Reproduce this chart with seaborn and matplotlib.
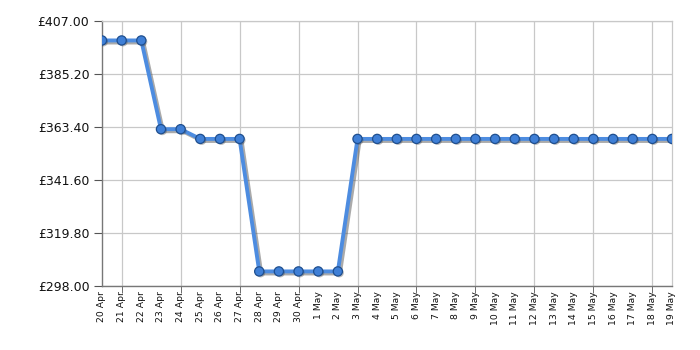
import matplotlib
matplotlib.use("Agg")
import matplotlib.pyplot as plt
import matplotlib.patheffects as pe
import seaborn as sns
import pandas as pd
import numpy as np

dates = ["20 Apr", "21 Apr", "22 Apr", "23 Apr", "24 Apr", "25 Apr", "26 Apr", "27 Apr",
         "28 Apr", "29 Apr", "30 Apr", "1 May", "2 May", "3 May", "4 May", "5 May",
         "6 May", "7 May", "8 May", "9 May", "10 May", "11 May", "12 May", "13 May",
         "14 May", "15 May", "16 May", "17 May", "18 May", "19 May"]
prices = [399.0, 399.0, 399.0, 362.5, 362.5, 358.5, 358.5, 358.5,
          304.0, 304.0, 304.0, 304.0, 304.0, 358.5, 358.5, 358.5,
          358.5, 358.5, 358.5, 358.5, 358.5, 358.5, 358.5, 358.5,
          358.5, 358.5, 358.5, 358.5, 358.5, 358.5]
ytick_values = [298.0, 319.8, 341.6, 363.4, 385.2, 407.0]

df = pd.DataFrame({"idx": np.arange(len(dates)), "date": dates, "price": prices})

sns.set_style("white")
plt.rcParams['font.family'] = ['DejaVu Sans']

fig = plt.figure(figsize=(7, 3.5), dpi=100)
ax = fig.add_axes([102/700, 1-286/350, 570/700, 265/350])

sns.lineplot(data=df, x="idx", y="price", ax=ax, color="#4d8ce0", linewidth=2.8,
             zorder=4,
             path_effects=[pe.SimpleLineShadow(offset=(1.5, -1.5), shadow_color="#444444", alpha=0.45),
                           pe.Normal()])
sns.scatterplot(data=df, x="idx", y="price", ax=ax, s=44, color="#3f7fd6",
                edgecolor="#1f4f8f", linewidth=0.9, zorder=5, legend=False,
                path_effects=[pe.SimplePatchShadow(offset=(1, -1), shadow_rgbFace="#444444", alpha=0.35),
                              pe.Normal()])

ax.set_xlim(0, len(dates) - 1)
ax.set_ylim(ytick_values[0], ytick_values[-1])

ax.set_yticks(ytick_values)
ax.set_yticklabels([f"£{v:.2f}" for v in ytick_values], fontsize=9, color="#111111")

ax.xaxis.remove_overlapping_locs = False
ax.set_xticks(np.arange(len(dates)))
ax.set_xticklabels(dates, rotation=90, fontsize=6.7, color="#111111")
ax.set_xticks(np.arange(1, len(dates), 3), minor=True)

ax.tick_params(axis="x", which="major", length=0, pad=4)
ax.tick_params(axis="x", which="minor", length=5, color="#555555", direction="out", bottom=True)
ax.tick_params(axis="y", length=6, color="#555555", direction="out", left=True, pad=3)

ax.grid(False)
ax.grid(True, axis="x", which="minor", color="#c8c8c8", linewidth=0.9)
ax.grid(True, axis="y", which="major", color="#c8c8c8", linewidth=0.9)
ax.set_axisbelow(True)

for s in ["top", "right"]:
    ax.spines[s].set_visible(True)
    ax.spines[s].set_color("#c8c8c8")
    ax.spines[s].set_linewidth(0.9)
for s in ["left", "bottom"]:
    ax.spines[s].set_color("#777777")
    ax.spines[s].set_linewidth(1.0)

ax.set_xlabel("")
ax.set_ylabel("")

fig.savefig("out.png", dpi=100)
